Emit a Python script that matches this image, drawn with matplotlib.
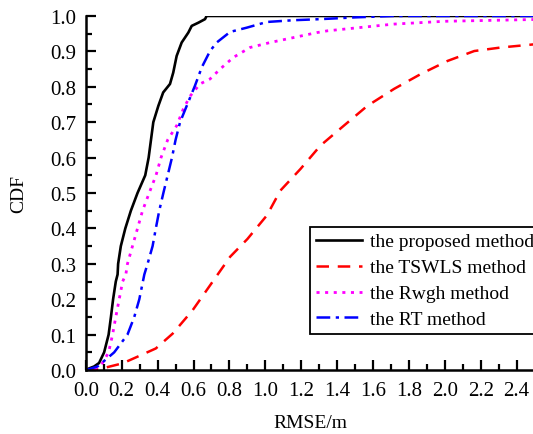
import matplotlib
matplotlib.use("Agg")
import matplotlib.pyplot as plt
from matplotlib.ticker import MultipleLocator, FormatStrFormatter

plt.rcParams['font.family'] = ['Liberation Serif', 'DejaVu Serif']
plt.rcParams['font.size'] = 15

# proposed method
x_prop = [0.0, 0.02, 0.046, 0.074, 0.102, 0.127, 0.14, 0.152, 0.167, 0.177, 0.18, 0.195,
          0.22, 0.251, 0.288, 0.331, 0.35, 0.363, 0.376, 0.404, 0.431, 0.469, 0.487, 0.506,
          0.534, 0.571, 0.59, 0.627, 0.664, 0.673, 2.5]
y_prop = [0.0, 0.005, 0.01, 0.02, 0.05, 0.10, 0.15, 0.20, 0.25, 0.27, 0.30, 0.35,
          0.40, 0.45, 0.50, 0.55, 0.60, 0.65, 0.70, 0.746, 0.784, 0.808, 0.84, 0.887,
          0.925, 0.953, 0.972, 0.981, 0.991, 1.0, 1.0]

# TSWLS method
x_tswls = [0.0, 0.07, 0.205, 0.298, 0.39, 0.484, 0.595, 0.66, 0.804, 0.9, 1.009, 1.084,
           1.196, 1.307, 1.437, 1.568, 1.717, 1.866, 2.015, 2.164, 2.313, 2.5]
y_tswls = [0.0, 0.002, 0.019, 0.04, 0.061, 0.103, 0.169, 0.216, 0.32, 0.37, 0.437, 0.507,
           0.568, 0.634, 0.69, 0.746, 0.794, 0.836, 0.873, 0.901, 0.911, 0.92]

# Rwgh method
x_rwgh = [0.0, 0.056, 0.093, 0.127, 0.149, 0.167, 0.186, 0.205, 0.223, 0.232, 0.26, 0.288,
          0.316, 0.353, 0.391, 0.419, 0.456, 0.506, 0.543, 0.58, 0.636, 0.692, 0.748, 0.822,
          0.915, 1.027, 1.157, 1.287, 1.345, 1.715, 2.0, 2.5]
y_rwgh = [0.0, 0.005, 0.02, 0.05, 0.10, 0.15, 0.20, 0.25, 0.27, 0.30, 0.35, 0.40,
          0.45, 0.50, 0.55, 0.60, 0.65, 0.69, 0.737, 0.773, 0.808, 0.822, 0.85, 0.883,
          0.911, 0.925, 0.939, 0.953, 0.958, 0.977, 0.985, 0.99]

# RT method
x_rt = [0.0, 0.065, 0.112, 0.158, 0.232, 0.27, 0.298, 0.326, 0.344, 0.372, 0.39, 0.409,
        0.432, 0.456, 0.48, 0.50, 0.525, 0.562, 0.608, 0.646, 0.692, 0.729, 0.804, 0.897,
        1.008, 1.157, 1.306, 1.5, 1.71, 2.5]
y_rt = [0.0, 0.01, 0.03, 0.05, 0.10, 0.15, 0.20, 0.27, 0.30, 0.35, 0.40, 0.45,
        0.50, 0.55, 0.60, 0.65, 0.70, 0.746, 0.803, 0.855, 0.901, 0.925, 0.955, 0.967,
        0.983, 0.988, 0.991, 0.996, 1.0, 1.0]

labels = ["the proposed method", "the TSWLS method", "the Rwgh method", "the RT method"]

fig = plt.figure(figsize=(5.33, 4.35), dpi=100)
ax = fig.add_axes([0.161, 0.147, 0.842, 0.814])

ax.plot(x_prop, y_prop, color='black', lw=1.9, label=labels[0])
ax.plot(x_tswls, y_tswls, color='red', lw=1.8, dashes=(5, 3.5), label=labels[1])
ax.plot(x_rwgh, y_rwgh, color='magenta', lw=2.0, dashes=(1.1, 2.0), label=labels[2])
ax.plot(x_rt, y_rt, color='blue', lw=1.8, dashes=(5.5, 2.2, 1.3, 2.2), label=labels[3])

ax.set_xlim(0, 2.5)
ax.set_ylim(0, 1.0)
ax.xaxis.set_major_locator(MultipleLocator(0.2))
ax.xaxis.set_minor_locator(MultipleLocator(0.1))
ax.yaxis.set_major_locator(MultipleLocator(0.1))
ax.yaxis.set_minor_locator(MultipleLocator(0.05))
ax.xaxis.set_major_formatter(FormatStrFormatter('%.1f'))
ax.yaxis.set_major_formatter(FormatStrFormatter('%.1f'))
ax.tick_params(which='major', direction='in', length=7, width=1.6, pad=7, labelsize=15)
ax.tick_params(which='minor', direction='in', length=4, width=1.6)
ax.tick_params(axis='x', which='major', pad=8)
for s in ['top', 'right']:
    ax.spines[s].set_visible(False)
for s in ['left', 'bottom']:
    ax.spines[s].set_linewidth(1.8)

ax.set_xlabel("RMSE/m", labelpad=10, fontsize=14)
ax.set_ylabel("CDF", labelpad=16, fontsize=14)

leg = ax.legend(loc='upper left', bbox_to_anchor=(0.5816, 0.476), bbox_transform=fig.transFigure,
                borderaxespad=0, fancybox=False, edgecolor='black', framealpha=1,
                handlelength=2.4, handletextpad=0.4, labelspacing=0.43, borderpad=0.3,
                fontsize=14)
leg.get_frame().set_linewidth(1.3)

fig.savefig("out.png", dpi=100)
